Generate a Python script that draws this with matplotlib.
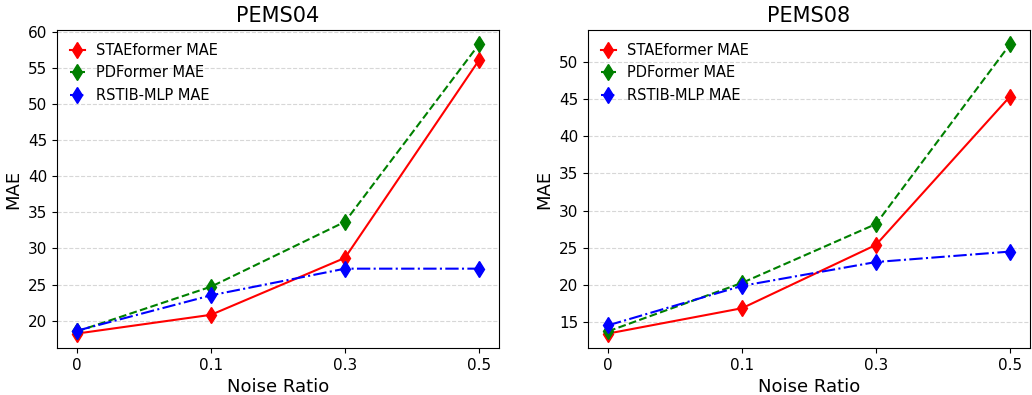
import matplotlib
matplotlib.use('Agg')
import matplotlib.pyplot as plt
import numpy as np

# 노이즈 비율 (범주형 x축)
noise_labels = ['0', '0.1', '0.3', '0.5']

# PEMS04
pems04_stae = [18.2, 20.8, 28.7, 56.1]
pems04_pdf = [18.5, 24.7, 33.7, 58.3]
pems04_rstib = [18.6, 23.5, 27.2, 27.2]

# PEMS08
pems08_stae = [13.5, 16.9, 25.4, 45.3]
pems08_pdf = [13.8, 20.3, 28.2, 52.3]
pems08_rstib = [14.6, 19.9, 23.1, 24.5]

datasets = [
    ('PEMS04', pems04_stae, pems04_pdf, pems04_rstib),
    ('PEMS08', pems08_stae, pems08_pdf, pems08_rstib),
]

fig = plt.figure(figsize=(10.32, 3.95), dpi=100)
x = np.arange(len(noise_labels))
lefts = [57 / 1032, 588 / 1032]
w = 442 / 1032
b = (395 - 348) / 395
h = 318 / 395

for left, (name, stae, pdf, rstib) in zip(lefts, datasets):
    ax = fig.add_axes([left, b, w, h])
    ax.plot(x, stae, color='red', linestyle='-', marker='d', markersize=8, label='STAEformer MAE')
    ax.plot(x, pdf, color='green', linestyle='--', marker='d', markersize=8, label='PDFormer MAE')
    ax.plot(x, rstib, color='blue', linestyle='-.', marker='d', markersize=8, label='RSTIB-MLP MAE')
    ax.set_xticks(x)
    ax.set_xticklabels(noise_labels, fontsize=11)
    ax.tick_params(axis='y', labelsize=11)
    ax.set_title(name, fontsize=15)
    ax.set_xlabel('Noise Ratio', fontsize=13)
    ax.set_ylabel('MAE', fontsize=13)
    ax.grid(axis='y', linestyle='--', alpha=0.5)
    ax.legend(loc='upper left', fontsize=10.5, frameon=False,
              handlelength=1.0, handletextpad=0.8, labelspacing=0.5)

plt.savefig('out.png', dpi=100)
